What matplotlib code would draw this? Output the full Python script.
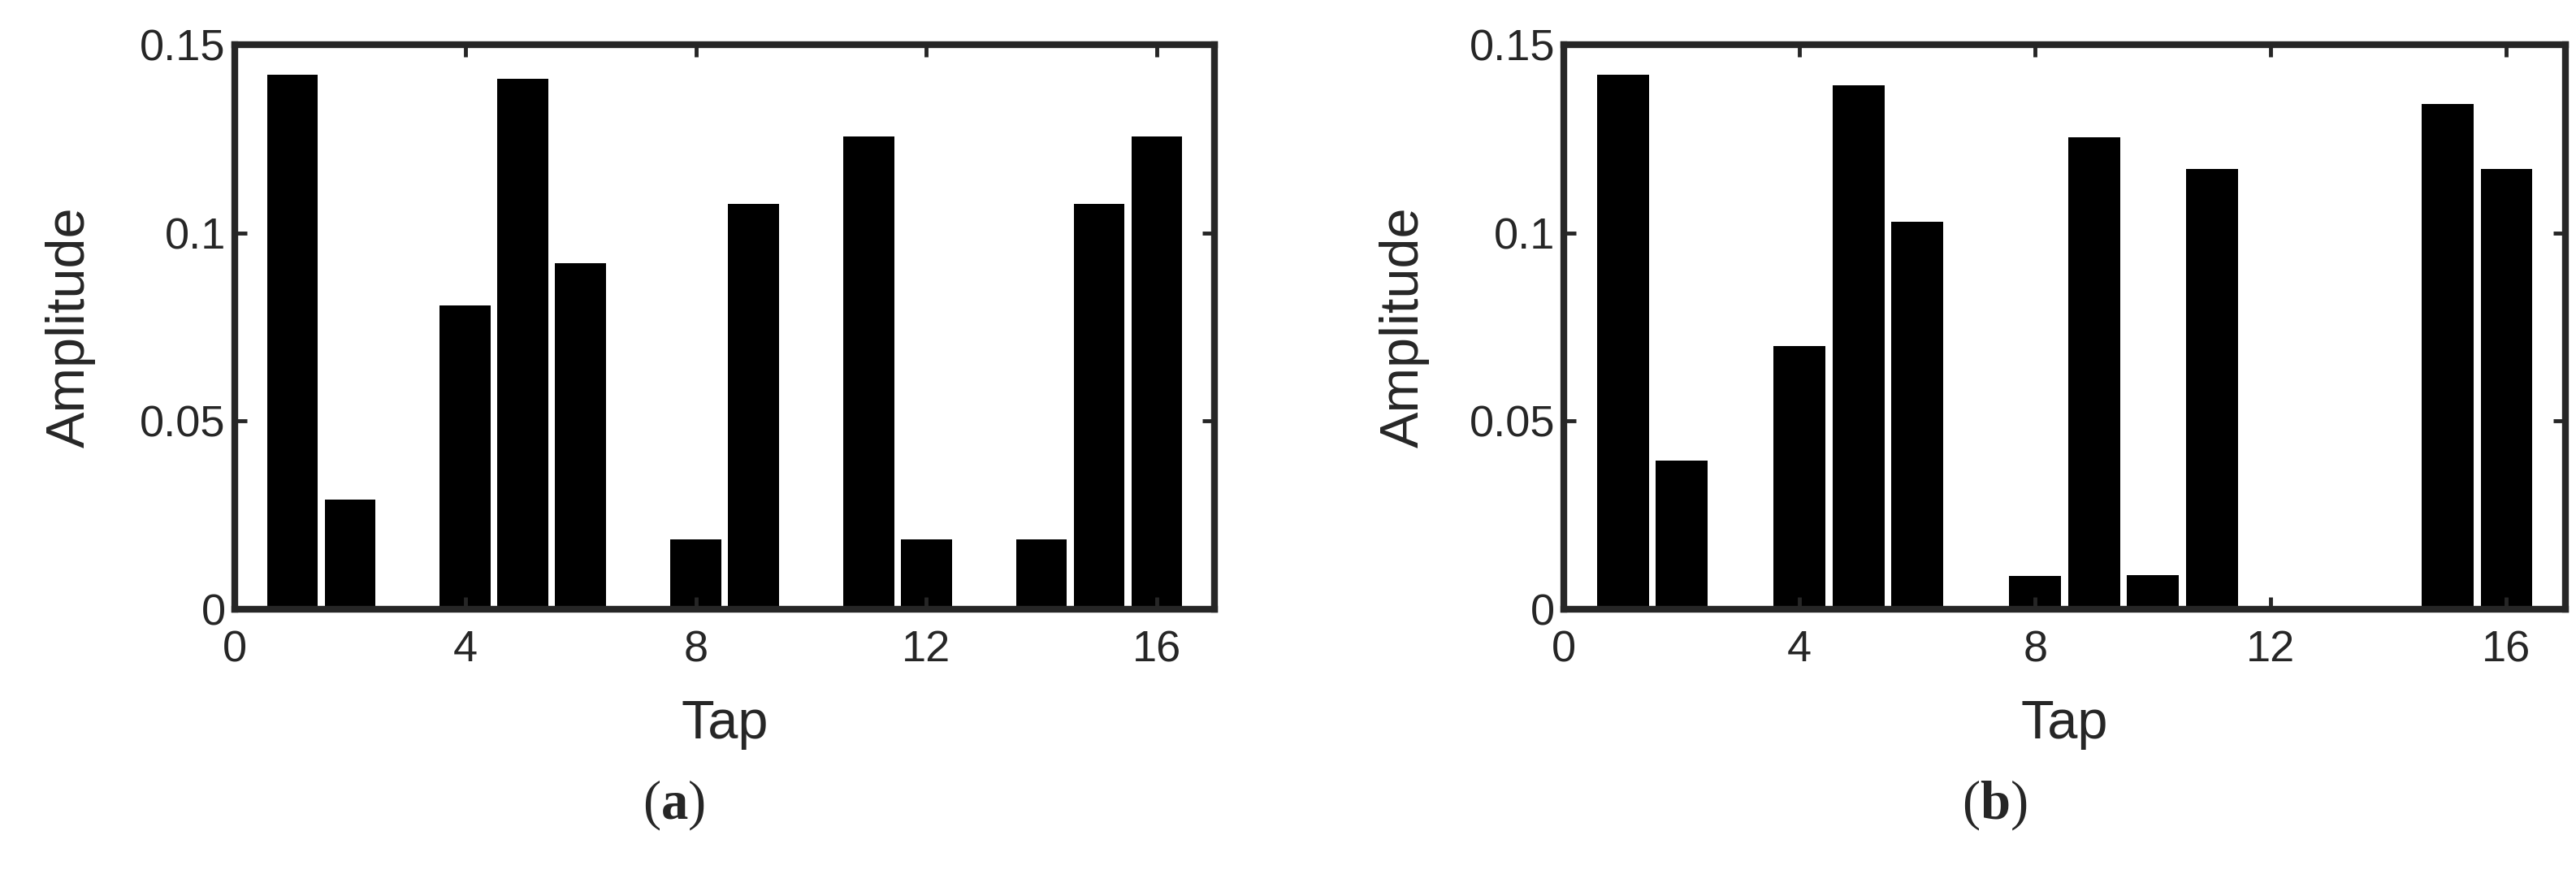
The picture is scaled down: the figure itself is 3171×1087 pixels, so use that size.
import matplotlib
matplotlib.use("Agg")
import matplotlib.pyplot as plt
import numpy as np

# Tap amplitudes
taps = np.arange(1, 17)
amp_a = [0.1421, 0.0291, 0.0, 0.0807, 0.1410, 0.0920, 0.0, 0.0185,
         0.1076, 0.0, 0.1257, 0.0185, 0.0, 0.0185, 0.1076, 0.1257]
amp_b = [0.1421, 0.0396, 0.0, 0.0699, 0.1392, 0.1030, 0.0, 0.0088,
         0.1254, 0.0091, 0.1169, 0.0, 0.0, 0.0, 0.1343, 0.1169]
x_ticks = [0, 4, 8, 12, 16]
y_ticks = [0, 0.05, 0.1, 0.15]
y_ticklabels = ["0", "0.05", "0.1", "0.15"]
panel_labels = ["a", "b"]

plt.rcParams["font.family"] = ["Liberation Sans", "DejaVu Sans"]
plt.rcParams["mathtext.fontset"] = "custom"
plt.rcParams["mathtext.rm"] = "Liberation Serif"
plt.rcParams["mathtext.bf"] = "Liberation Serif:bold"

txt = "#262626"
fig = plt.figure(figsize=(31.71, 10.87), dpi=100)

# axes rectangles in figure fraction (left, bottom, width, height)
rects = [(0.0911, 0.310, 0.3804, 0.6394), (0.6071, 0.310, 0.3888, 0.6394)]
ylab_x = [-0.1675, -0.159]
lab_x = [0.2614, 0.7742]

for i, (amps, rect) in enumerate(zip([amp_a, amp_b], rects)):
    ax = fig.add_axes(rect)
    ax.bar(taps, amps, width=0.88, color="black", edgecolor="none", zorder=1)
    ax.set_xlim(0, 17)
    ax.set_ylim(0, 0.15)
    ax.set_xticks(x_ticks)
    ax.set_yticks(y_ticks)
    ax.set_yticklabels(y_ticklabels)
    ax.tick_params(direction="in", top=True, right=True, length=11, width=3.5,
                   color=txt, labelcolor=txt, labelsize=39)
    ax.tick_params(axis="x", pad=18)
    ax.tick_params(axis="y", pad=8)
    for s in ax.spines.values():
        s.set_linewidth(6)
        s.set_color(txt)
        s.set_zorder(3)
    ax.set_xlabel("Tap", fontsize=48, color=txt)
    ax.set_ylabel("Amplitude", fontsize=48, color=txt)
    ax.xaxis.set_label_coords(0.5, -0.204)
    ax.xaxis.label.set_va("center")
    ax.yaxis.set_label_coords(ylab_x[i], 0.5)
    ax.yaxis.label.set_va("center")
    fig.text(lab_x[i], 0.0883, "(" + r"$\mathbf{" + panel_labels[i] + "}$" + ")",
             family="Liberation Serif", fontsize=48, color=txt,
             ha="center", va="center")

fig.savefig("out.png", dpi=100, facecolor="white")
